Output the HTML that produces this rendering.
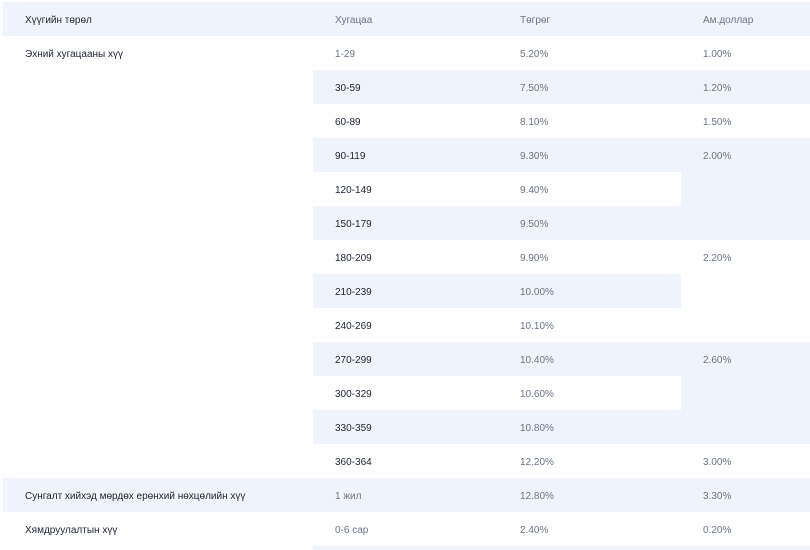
<!DOCTYPE html><html><head><meta charset="utf-8"><style>
body{margin:0;width:810px;height:550px;background:#fff;overflow:hidden;font-family:"Liberation Sans",sans-serif;font-size:10px;position:relative}
.b{position:absolute;background:#eff4fc}
.t{position:absolute;line-height:34px;white-space:nowrap;margin-top:2px;font-weight:500}
.d{color:#1c2233}.g{color:#6b7385}
</style></head><body>
<div class="b" style="left:3px;top:2px;width:807px;height:34px"></div>
<div class="t d" style="left:25px;top:2px">Хүүгийн төрөл</div>
<div class="t g" style="left:335px;top:2px">Хугацаа</div>
<div class="t g" style="left:520px;top:2px">Төгрөг</div>
<div class="t g" style="left:703px;top:2px">Ам.доллар</div>

<div class="b" style="left:313px;top:70px;width:497px;height:34px"></div>
<div class="b" style="left:313px;top:138px;width:497px;height:34px"></div>
<div class="b" style="left:681px;top:172px;width:129px;height:68px"></div>
<div class="b" style="left:313px;top:206px;width:497px;height:34px"></div>
<div class="b" style="left:313px;top:274px;width:368px;height:34px"></div>
<div class="b" style="left:313px;top:342px;width:497px;height:34px"></div>
<div class="b" style="left:681px;top:376px;width:129px;height:68px"></div>
<div class="b" style="left:313px;top:410px;width:497px;height:34px"></div>
<div class="b" style="left:3px;top:478px;width:807px;height:34px"></div>
<div class="b" style="left:313px;top:546px;width:497px;height:4px"></div>

<div class="t d" style="left:25px;top:36px">Эхний хугацааны хүү</div>
<div class="t g" style="left:335px;top:36px">1-29</div><div class="t g" style="left:520px;top:36px">5.20%</div><div class="t g" style="left:703px;top:36px">1.00%</div>
<div class="t d" style="left:335px;top:70px">30-59</div><div class="t g" style="left:520px;top:70px">7.50%</div><div class="t g" style="left:703px;top:70px">1.20%</div>
<div class="t d" style="left:335px;top:104px">60-89</div><div class="t g" style="left:520px;top:104px">8.10%</div><div class="t g" style="left:703px;top:104px">1.50%</div>
<div class="t d" style="left:335px;top:138px">90-119</div><div class="t g" style="left:520px;top:138px">9.30%</div><div class="t g" style="left:703px;top:138px">2.00%</div>
<div class="t d" style="left:335px;top:172px">120-149</div><div class="t g" style="left:520px;top:172px">9.40%</div>
<div class="t d" style="left:335px;top:206px">150-179</div><div class="t g" style="left:520px;top:206px">9.50%</div>
<div class="t d" style="left:335px;top:240px">180-209</div><div class="t g" style="left:520px;top:240px">9.90%</div><div class="t g" style="left:703px;top:240px">2.20%</div>
<div class="t d" style="left:335px;top:274px">210-239</div><div class="t g" style="left:520px;top:274px">10.00%</div>
<div class="t d" style="left:335px;top:308px">240-269</div><div class="t g" style="left:520px;top:308px">10.10%</div>
<div class="t d" style="left:335px;top:342px">270-299</div><div class="t g" style="left:520px;top:342px">10.40%</div><div class="t g" style="left:703px;top:342px">2.60%</div>
<div class="t d" style="left:335px;top:376px">300-329</div><div class="t g" style="left:520px;top:376px">10.60%</div>
<div class="t d" style="left:335px;top:410px">330-359</div><div class="t g" style="left:520px;top:410px">10.80%</div>
<div class="t d" style="left:335px;top:444px">360-364</div><div class="t g" style="left:520px;top:444px">12.20%</div><div class="t g" style="left:703px;top:444px">3.00%</div>
<div class="t d" style="left:25px;top:478px">Сунгалт хийхэд мөрдөх ерөнхий нөхцөлийн хүү</div>
<div class="t g" style="left:335px;top:478px">1 жил</div><div class="t g" style="left:520px;top:478px">12.80%</div><div class="t g" style="left:703px;top:478px">3.30%</div>
<div class="t d" style="left:25px;top:512px">Хямдруулалтын хүү</div>
<div class="t g" style="left:335px;top:512px">0-6 сар</div><div class="t g" style="left:520px;top:512px">2.40%</div><div class="t g" style="left:703px;top:512px">0.20%</div>
</body></html>
